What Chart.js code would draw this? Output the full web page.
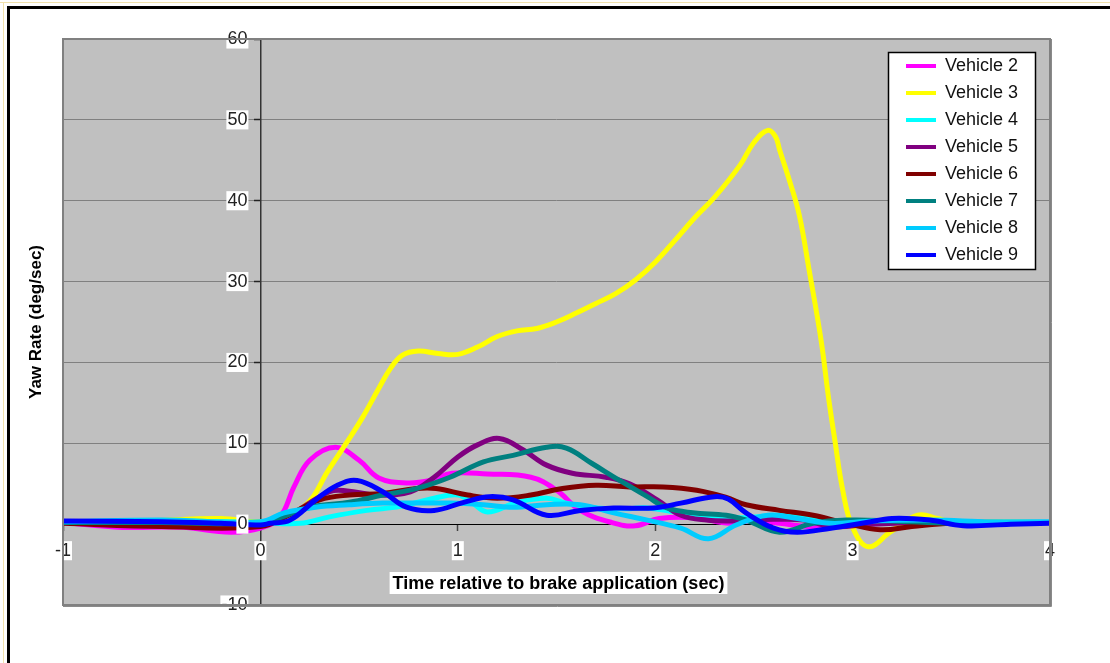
<!DOCTYPE html>
<html>
<head>
<meta charset="utf-8">
<title>Yaw Rate vs Time</title>
<script src="https://cdn.jsdelivr.net/npm/chart.js@4.4.1/dist/chart.umd.min.js"></script>
<style>
  html, body { margin: 0; padding: 0; background: #fff; }
  #wrap { position: relative; width: 1110px; height: 663px; overflow: hidden; background: #fff; }
  #chart { position: absolute; left: 0; top: 0; }
  .rule { position: absolute; }
</style>
</head>
<body>
<div id="wrap">
  <canvas id="chart" width="1110" height="663"></canvas>
  <div class="rule" style="left:0;top:2px;width:1110px;height:1px;background:#f2e2ac"></div>
  <div class="rule" style="left:3px;top:2px;width:1px;height:661px;background:#f2e2ac"></div>
  <div class="rule" style="left:7px;top:6px;width:1103px;height:3px;background:#000"></div>
  <div class="rule" style="left:7px;top:6px;width:3px;height:657px;background:#000"></div>
</div>
<script>
// ---- series data: time relative to brake application (s) and yaw rate (deg/s) ----
const seriesNames = ['Vehicle 2', 'Vehicle 3', 'Vehicle 4', 'Vehicle 5', 'Vehicle 6', 'Vehicle 7', 'Vehicle 8', 'Vehicle 9'];
const seriesColors = ['#FF00FF', '#FFFF00', '#00FFFF', '#800080', '#800000', '#008080', '#00CCFF', '#0000FF'];

const v2Time = [-1, -0.7, -0.4, -0.15, 0, 0.1, 0.17, 0.25, 0.38, 0.5, 0.6, 0.74, 0.86, 0.97, 1.15, 1.37, 1.5, 1.62, 1.78, 1.9, 2.02, 2.2, 2.38, 2.5, 2.63, 2.8, 3.0, 3.3, 3.6, 4];
const v2Rate = [0.2, -0.4, -0.4, -1.0, -0.5, 0.9, 4.6, 7.9, 9.5, 7.9, 5.7, 5.1, 5.4, 6.3, 6.2, 5.8, 4.2, 1.7, 0.2, -0.2, 0.7, 0.8, 0.1, 0.5, 0.1, -0.3, 0.2, 0.4, 0.2, 0.2];

const v3Time = [-1, -0.6, -0.2, 0, 0.1, 0.24, 0.34, 0.44, 0.52, 0.6, 0.66, 0.72, 0.8, 0.9, 1.0, 1.1, 1.2, 1.3, 1.4, 1.5, 1.6, 1.7, 1.8, 1.9, 2.0, 2.1, 2.2, 2.3, 2.43, 2.5, 2.57, 2.61, 2.63, 2.68, 2.73, 2.78, 2.84, 2.88, 2.91, 2.95, 3.0, 3.08, 3.19, 3.33, 3.43, 3.51, 3.7, 4];
const v3Rate = [0.3, 0.4, 0.7, 0.3, 0.9, 2.6, 6.5, 10.2, 13.3, 16.8, 19.3, 20.9, 21.4, 21.1, 21.0, 21.9, 23.2, 23.9, 24.2, 25.0, 26.1, 27.3, 28.5, 30.2, 32.4, 35.1, 37.9, 40.4, 44.4, 47.2, 48.7, 47.9, 46.3, 42.5, 38.2, 31.4, 22.8, 15.3, 10.4, 4.2, -0.4, -2.8, -1.0, 1.1, 0.7, 0.2, 0.3, 0.2];

const v4Time = [-1, -0.5, 0, 0.2, 0.35, 0.54, 0.71, 0.88, 1.0, 1.07, 1.15, 1.3, 1.45, 1.55, 1.7, 1.85, 1.96, 2.13, 2.29, 2.45, 2.63, 2.85, 3.1, 3.4, 3.7, 4];
const v4Rate = [0.3, 0.4, 0.2, 0.1, 0.9, 1.7, 2.2, 3.2, 3.6, 2.7, 1.5, 2.7, 3.2, 2.6, 2.0, 1.9, 2.0, 1.4, 0.9, 0.8, 1.1, 0.5, 0.3, 0.4, 0.2, 0.2];

const v5Time = [-1, -0.5, 0, 0.15, 0.35, 0.44, 0.59, 0.76, 0.88, 1.0, 1.1, 1.21, 1.33, 1.45, 1.58, 1.75, 1.87, 2.01, 2.13, 2.26, 2.4, 2.6, 2.75, 2.9, 3.1, 3.4, 4];
const v5Rate = [0.2, 0.2, 0.1, 1.2, 4.0, 4.1, 3.6, 4.0, 5.8, 8.3, 9.8, 10.6, 9.2, 7.3, 6.3, 5.8, 5.0, 3.0, 1.1, 0.5, 0.4, 0.6, 0.5, -0.3, 0.0, 0.2, 0.2];

const v6Time = [-1, -0.5, 0, 0.15, 0.3, 0.45, 0.62, 0.79, 0.89, 1.05, 1.2, 1.37, 1.53, 1.7, 1.87, 2.04, 2.21, 2.36, 2.46, 2.63, 2.8, 2.97, 3.14, 3.3, 3.5, 4];
const v6Rate = [0.1, -0.3, -0.3, 1.2, 3.0, 3.6, 3.8, 4.4, 4.4, 3.6, 3.2, 3.6, 4.4, 4.8, 4.6, 4.6, 4.2, 3.3, 2.4, 1.7, 1.1, 0.1, -0.7, -0.3, 0.1, 0.2];

const v7Time = [-1, -0.5, 0, 0.1, 0.2, 0.3, 0.45, 0.62, 0.79, 0.96, 1.13, 1.28, 1.45, 1.55, 1.68, 1.82, 1.96, 2.06, 2.19, 2.36, 2.46, 2.63, 2.8, 2.97, 3.2, 3.5, 4];
const v7Rate = [0.2, 0.2, 0.1, 0.8, 1.7, 2.3, 2.7, 3.6, 4.4, 5.8, 7.7, 8.5, 9.5, 9.4, 7.5, 5.4, 3.4, 2.0, 1.4, 1.1, 0.5, -1.0, 0.1, 0.5, 0.4, 0.1, 0.2];

const v8Time = [-1, -0.5, 0, 0.12, 0.28, 0.45, 0.62, 0.79, 0.96, 1.13, 1.28, 1.45, 1.62, 1.79, 1.96, 2.13, 2.27, 2.41, 2.57, 2.72, 2.89, 3.1, 3.4, 3.7, 4];
const v8Rate = [0.3, 0.5, 0.3, 1.4, 2.1, 2.4, 2.6, 2.6, 2.6, 2.4, 2.1, 2.4, 2.4, 1.4, 0.5, -0.5, -1.8, -0.1, 1.1, 0.7, 0.1, 0.4, 0.5, 0.3, 0.3];

const v9Time = [-1, -0.5, -0.2, 0, 0.05, 0.15, 0.28, 0.39, 0.49, 0.62, 0.74, 0.88, 1.03, 1.16, 1.28, 1.45, 1.62, 1.79, 1.99, 2.13, 2.3, 2.37, 2.46, 2.6, 2.72, 2.89, 3.07, 3.2, 3.39, 3.56, 3.8, 4];
const v9Rate = [0.4, 0.3, 0.1, -0.1, 0.1, 0.5, 3.0, 4.8, 5.4, 4.0, 2.1, 1.7, 2.7, 3.4, 3.0, 1.1, 1.7, 2.0, 2.0, 2.6, 3.4, 3.1, 1.4, -0.5, -1.0, -0.5, 0.2, 0.7, 0.5, -0.2, 0.0, 0.1];

const seriesTimes = [v2Time, v3Time, v4Time, v5Time, v6Time, v7Time, v8Time, v9Time];
const seriesRates = [v2Rate, v3Rate, v4Rate, v5Rate, v6Rate, v7Rate, v8Rate, v9Rate];

// ---- axis ticks ----
const timeTicks = [-1, 0, 1, 2, 3, 4];
const rateTicks = [-10, 0, 10, 20, 30, 40, 50, 60];

const xTitle = 'Time relative to brake application (sec)';
const yTitle = 'Yaw Rate (deg/sec)';

const FONT = "'Liberation Sans', Arial, Helvetica, sans-serif";
Chart.defaults.font.family = FONT;

const datasets = seriesNames.map((name, i) => ({
  label: name,
  data: seriesTimes[i].map((t, k) => ({ x: t, y: seriesRates[i][k] })),
  borderColor: seriesColors[i],
  backgroundColor: seriesColors[i],
  borderWidth: 5,
  pointRadius: 0,
  pointHoverRadius: 0,
  tension: 0.4,
  fill: false,
  borderCapStyle: 'round',
  borderJoinStyle: 'round',
  order: -i          // later vehicles are painted over earlier ones
}));

// gap between the centred value axis and its labels
const Y_LABEL_GAP = 13;

// plot background, legend frame, plot border and axis titles
const chartDecor = {
  id: 'chartDecor',
  beforeDraw(chart) {
    const { ctx, chartArea: a } = chart;
    ctx.save();
    ctx.fillStyle = '#C0C0C0';
    ctx.fillRect(a.left, a.top, a.right - a.left, a.bottom - a.top);
    ctx.restore();

    // value labels sit to the left of the axis line
    const items = chart.scales.y.getLabelItems(a);
    if (!items._shifted) {
      items.forEach(it => { it.options.translation[0] -= Y_LABEL_GAP; });
      items._shifted = true;
    }

    const lg = chart.legend;
    if (lg) {
      lg.left = 897; lg.top = 48; lg.right = 1040; lg.bottom = 300;
      lg.width = lg.right - lg.left; lg.height = lg.bottom - lg.top;
      if (!lg._framed) {
        const baseDraw = lg.draw;
        lg.draw = function () {
          const c = this.ctx;
          c.save();
          c.fillStyle = '#fff';
          c.fillRect(888, 52, 148, 218);
          c.strokeStyle = '#000';
          c.lineWidth = 1.5;
          c.strokeRect(888.5, 52.5, 147, 217);
          c.restore();
          return baseDraw.apply(this, arguments);
        };
        lg._framed = true;
      }
    }
  },
  afterDraw(chart) {
    const { ctx, chartArea: a } = chart;
    ctx.save();
    // plot frame
    ctx.strokeStyle = '#808080';
    ctx.lineWidth = 2;
    ctx.strokeRect(a.left, a.top, a.right - a.left, a.bottom - a.top);
    ctx.beginPath();
    ctx.moveTo(a.right + 1.5, a.top);
    ctx.lineTo(a.right + 1.5, a.bottom + 1.5);
    ctx.lineTo(a.left, a.bottom + 1.5);
    ctx.lineWidth = 1;
    ctx.strokeStyle = '#8a8a8a';
    ctx.stroke();

    // x-axis title with white backdrop
    ctx.font = 'bold 18px ' + FONT;
    ctx.textAlign = 'center';
    ctx.textBaseline = 'middle';
    const cx = (a.left + a.right) / 2 + 2;
    const cy = a.bottom - 22;
    const w = ctx.measureText(xTitle).width;
    ctx.fillStyle = '#fff';
    ctx.fillRect(cx - w / 2 - 3, cy - 11, w + 6, 22);
    ctx.fillStyle = '#000';
    ctx.fillText(xTitle, cx, cy + 1);

    // y-axis title
    ctx.translate(36, (a.top + a.bottom) / 2);
    ctx.rotate(-Math.PI / 2);
    ctx.font = 'bold 17px ' + FONT;
    ctx.fillText(yTitle, 0, 0);
    ctx.restore();
  }
};

new Chart(document.getElementById('chart'), {
  type: 'line',
  data: { datasets },
  plugins: [chartDecor],
  options: {
    responsive: false,
    animation: false,
    devicePixelRatio: 1,
    events: [],
    layout: { padding: { left: 63, top: 39, right: 60, bottom: 58 } },
    plugins: {
      tooltip: { enabled: false },
      legend: {
        position: 'chartArea',
        align: 'start',
        reverse: true,
        labels: {
          boxWidth: 30,
          boxHeight: 4,
          padding: 9,
          color: '#111',
          font: { family: FONT, size: 18 },
          generateLabels(chart) {
            return Chart.defaults.plugins.legend.labels.generateLabels(chart).map(item => {
              item.fillStyle = item.strokeStyle;
              item.lineWidth = 0;
              return item;
            });
          }
        }
      }
    },
    scales: {
      x: {
        type: 'linear',
        position: { y: 0 },
        min: timeTicks[0],
        max: timeTicks[timeTicks.length - 1],
        afterBuildTicks(scale) { scale.ticks = timeTicks.map(v => ({ value: v })); },
        ticks: {
          z: 1,
          color: '#222',
          font: { size: 18, lineHeight: 0.95 },
          padding: 12,
          maxRotation: 0,
          autoSkip: false,
          showLabelBackdrop: true,
          backdropColor: '#fff',
          backdropPadding: { x: 1, y: 1 }
        },
        grid: { drawOnChartArea: false, tickLength: 6, tickColor: '#444', tickWidth: 1.5 },
        border: { color: '#000', width: 1 }
      },
      y: {
        type: 'linear',
        position: { x: 0 },
        min: rateTicks[0],
        max: rateTicks[rateTicks.length - 1],
        afterBuildTicks(scale) { scale.ticks = rateTicks.map(v => ({ value: v })); },
        ticks: {
          z: 1,
          color: '#222',
          font: { size: 18, lineHeight: 0.95 },
          padding: 8,
          autoSkip: false,
          showLabelBackdrop: true,
          backdropColor: '#fff',
          backdropPadding: { x: 1, y: 1 }
        },
        grid: { color: '#808080', lineWidth: 1, tickLength: 6, tickColor: '#222', tickWidth: 1.5 },
        border: { color: '#333', width: 1.5 }
      }
    }
  }
});
</script>
</body>
</html>
